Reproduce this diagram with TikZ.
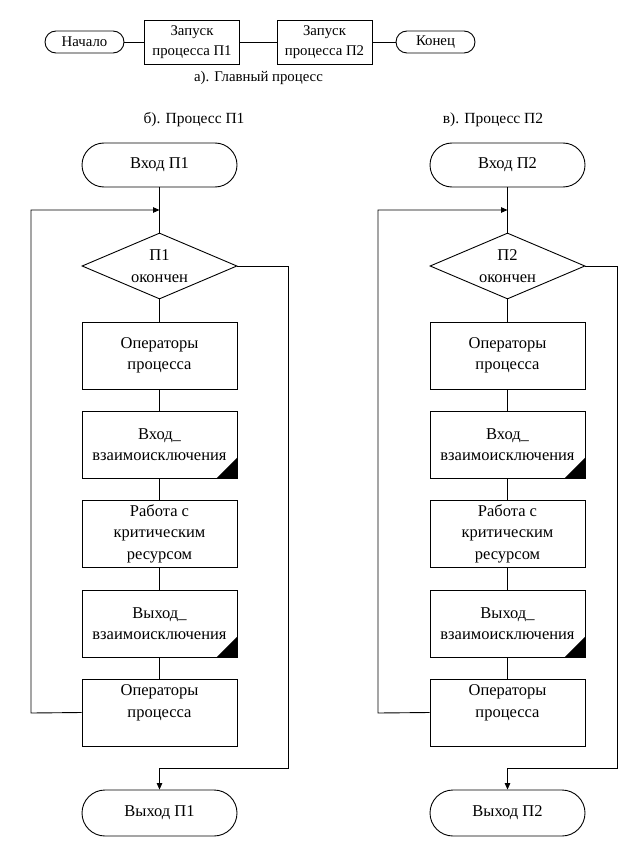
\documentclass[tikz,border=0pt]{standalone}
\usepackage{fontspec}
\setmainfont{Liberation Serif}
\usetikzlibrary{shapes.geometric,arrows.meta}
\tikzset{
  base/.style={draw=black, line width=0.9pt, align=center, inner sep=0pt},
  chart/.style={font=\fontsize{16.5}{21.5}\selectfont},
  small/.style={font=\fontsize{14.8}{19.5}\selectfont},
  term/.style={base, chart, rounded corners=22pt, minimum width=155pt, minimum height=44pt},
  termout/.style={base, chart, rounded corners=23pt, minimum width=155pt, minimum height=46pt},
  proc/.style={base, chart, minimum width=155pt, minimum height=67pt},
  dec/.style={base, chart, shape=diamond, aspect=2.35, minimum width=155pt, minimum height=66pt},
  tterm/.style={base, small, rounded corners=11pt, minimum width=79pt, minimum height=22pt},
  tproc/.style={base, small, minimum width=95pt, minimum height=44pt},
  txt/.style={align=center, inner sep=0pt},
  conn/.style={draw=black, line width=0.9pt},
  arr/.style={conn, -{Triangle[length=6.5pt,width=5.5pt]}},
  corner/.style={fill=black}
}
\newcommand\flowcol[5]{%
  \node[term] (#1in) at (#2,165) {Вход П#3};
  \node[dec] (#1dec) at (#2,266) {П#3\\окончен};
  \node[proc] (#1opa) at (#2,355.5) {Операторы\\процесса};
  \node[proc] (#1enter) at (#2,444.5) {Вход\_\\взаимоисключения};
  \node[proc] (#1work) at (#2,533.5) {Работа с\\критическим\\ресурсом};
  \node[proc] (#1leave) at (#2,623.5) {Выход\_\\взаимоисключения};
  \node[proc] (#1opb) at (#2,712.5) {};
  \node[txt, chart] (#1opbt) at (#2,703) {Операторы\\процесса};
  \node[termout] (#1out) at (#2,813) {Выход П#3};
  \fill[corner] ([xshift=-21pt]#1enter.south east) -- (#1enter.south east) -- ([yshift=21pt]#1enter.south east) -- cycle;
  \fill[corner] ([xshift=-21pt]#1leave.south east) -- (#1leave.south east) -- ([yshift=21pt]#1leave.south east) -- cycle;
  \coordinate (#1join) at (#2,210);
  \coordinate (#1loop) at (#4,713);
  \coordinate (#1right) at (#5,768);
  \draw[conn] (#1in) -- (#1dec);
  \draw[conn] (#1dec) -- (#1opa);
  \draw[conn] (#1opa) -- (#1enter);
  \draw[conn] (#1enter) -- (#1work);
  \draw[conn] (#1work) -- (#1leave);
  \draw[conn] (#1leave) -- (#1opb);
  \draw[arr] (#1opb.west) -- (#1loop) |- (#1join);
  \draw[arr] (#1dec.east) -| (#1right) -| (#1out.north);
}
\begin{document}
\begin{tikzpicture}[x=1pt,y=-1pt]
  \useasboundingbox[fill=white] (0,0) rectangle (640,845);
  % main process
  \node[tterm] (start) at (84.5,42) {Начало};
  \node[tproc] (run1) at (192,42) {Запуск\\процесса П1};
  \node[tproc] (run2) at (324.5,42) {Запуск\\процесса П2};
  \node[tterm] (stop) at (435.5,42) {Конец};
  \draw[conn] (start) -- (run1);
  \draw[conn] (run1) -- (run2);
  \draw[conn] (run2) -- (stop);
  \node[txt, small] (capa) at (258.5,78) {а). Главный процесс};
  \node[txt, font=\fontsize{15.5}{19}\selectfont] (capb) at (194,120) {б). Процесс П1};
  \node[txt, font=\fontsize{15.5}{19}\selectfont] (capc) at (493,120) {в). Процесс П2};
  \flowcol{L}{159.5}{1}{31}{288}
  \flowcol{R}{507.5}{2}{378}{617}
\end{tikzpicture}
\end{document}
